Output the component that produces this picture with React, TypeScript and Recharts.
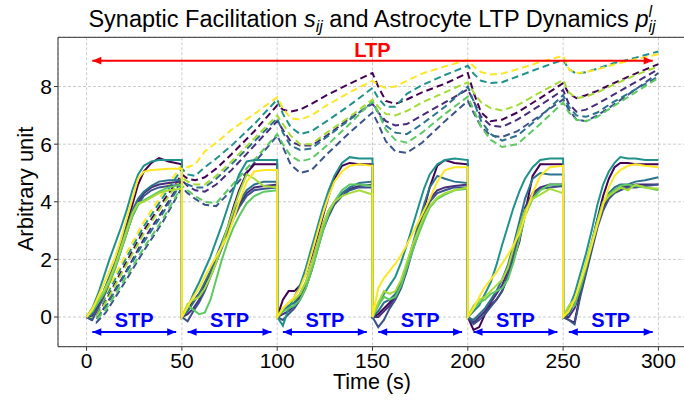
import { LineChart, Line, XAxis, YAxis, CartesianGrid, ReferenceLine, ReferenceDot } from "recharts";

const FONT = '"Liberation Sans", Arial, Helvetica, sans-serif';

// time grid of the solid s_ij traces (each 50 s window restarts at its first sample)
const S_TIME = [
  0, 3, 6, 9, 12, 15, 18, 21, 24, 27, 30, 34, 38, 43, 50,
  50, 53, 56, 59, 62, 65, 68, 71, 74, 77, 80, 84, 88, 93, 100,
  100, 103, 106, 109, 112, 115, 118, 121, 124, 127, 130, 134, 138, 143, 150,
  150, 153, 156, 159, 162, 165, 168, 171, 174, 177, 180, 184, 188, 193, 200,
  200, 203, 206, 209, 212, 215, 218, 221, 224, 227, 230, 234, 238, 243, 250,
  250, 253, 256, 259, 262, 265, 268, 271, 274, 277, 280, 284, 288, 293, 300,
];

// time grid of the dashed p_ij traces
const P_TIME = [
  0, 5, 10, 20, 30, 40, 50,
  53, 57, 62, 68, 76, 88, 100,
  103, 107, 112, 118, 126, 138, 150,
  153, 157, 162, 168, 176, 188, 200,
  203, 207, 212, 218, 226, 238, 250,
  253, 257, 262, 268, 276, 288, 300,
];

const S_PURPLE = [
  0, 0.15, 0.5, 0.9, 1.35, 1.8, 2.45, 3.2, 3.9, 4.6, 5.05, 5.35, 5.52, 5.4, 5.3,
  0, 0.25, 0.55, 0.8, 1.1, 1.5, 1.95, 2.5, 3.1, 3.8, 4.4, 5.0, 5.3, 5.3, 5.3,
  0, 0.6, 0.9, 0.9, 1.1, 1.5, 2.1, 2.8, 3.5, 4.2, 4.8, 5.25, 5.35, 5.3, 5.3,
  0, 0.1, 0.3, 0.5, 0.75, 1.1, 1.7, 2.4, 3.05, 3.75, 4.5, 5.25, 5.45, 5.35, 5.3,
  0, -0.45, -0.35, 0.1, 0.4, 0.6, 0.9, 1.4, 2.0, 2.6, 3.6, 4.9, 5.3, 5.3, 5.3,
  0, -0.1, -0.2, 0.8, 1.6, 2.5, 3.4, 4.2, 4.8, 5.2, 5.35, 5.35, 5.3, 5.3, 5.3,
];
const S_INDIGO = [
  0, 0.05, 0.4, 0.8, 1.3, 1.8, 2.4, 3.0, 3.6, 4.0, 4.3, 4.5, 4.6, 4.65, 4.7,
  0, 0.1, 0.3, 0.6, 1.0, 1.5, 2.0, 2.5, 3.0, 3.5, 3.9, 4.3, 4.5, 4.55, 4.6,
  0, 0.1, 0.2, 0.4, 0.7, 1.1, 1.7, 2.4, 3.1, 3.6, 4.0, 4.3, 4.45, 4.55, 4.6,
  0, 0.0, 0.2, 0.4, 0.7, 1.1, 1.7, 2.4, 3.0, 3.6, 4.1, 4.4, 4.5, 4.55, 4.6,
  0, -0.2, 0.0, 0.2, 0.5, 0.8, 1.1, 1.6, 2.3, 3.0, 3.8, 4.3, 4.5, 4.6, 4.6,
  0, 0.0, 0.3, 0.9, 1.6, 2.4, 3.2, 3.8, 4.2, 4.4, 4.5, 4.55, 4.6, 4.6, 4.6,
];
const S_DARKBLUE = [
  0, -0.1, 0.3, 0.7, 1.2, 1.7, 2.3, 2.9, 3.5, 3.9, 4.2, 4.4, 4.5, 4.55, 4.6,
  0, -0.15, 0.2, 0.5, 0.9, 1.4, 1.9, 2.4, 2.9, 3.4, 3.8, 4.2, 4.4, 4.45, 4.5,
  0, -0.1, 0.1, 0.3, 0.6, 1.0, 1.6, 2.3, 3.0, 3.5, 3.9, 4.2, 4.4, 4.5, 4.5,
  0, -0.35, -0.1, 0.3, 0.6, 1.0, 1.6, 2.3, 2.9, 3.5, 4.0, 4.3, 4.4, 4.5, 4.5,
  0, -0.25, -0.1, 0.1, 0.35, 0.6, 0.9, 1.4, 2.1, 2.9, 3.7, 4.2, 4.45, 4.5, 4.55,
  0, -0.1, -0.25, 0.7, 1.5, 2.3, 3.1, 3.7, 4.1, 4.3, 4.4, 4.5, 4.5, 4.55, 4.6,
];
const S_STEEL = [
  0, 0.1, 0.5, 0.9, 1.4, 1.9, 2.5, 3.1, 3.7, 4.1, 4.35, 4.55, 4.7, 4.75, 4.75,
  0, 0.2, 0.5, 0.8, 1.2, 1.6, 2.1, 2.6, 3.1, 3.6, 4.0, 4.4, 4.6, 4.7, 4.7,
  0, 0.2, 0.4, 0.5, 0.8, 1.2, 1.8, 2.5, 3.2, 3.7, 4.0, 4.3, 4.5, 4.65, 4.7,
  0, 0.2, 0.5, 0.6, 0.8, 1.2, 1.8, 2.5, 3.2, 3.9, 4.5, 4.9, 4.8, 4.7, 4.65,
  0, -0.1, 0.1, 0.3, 0.6, 0.9, 1.3, 1.8, 2.5, 3.3, 4.1, 4.8, 5.0, 4.95, 4.95,
  0, 0.1, 0.5, 1.1, 1.8, 2.6, 3.4, 4.0, 4.3, 4.5, 4.6, 4.6, 4.7, 4.75, 4.85,
];
const S_TEAL = [
  0, 0.3, 0.8, 1.4, 2.0, 2.55, 3.1, 3.7, 4.4, 4.95, 5.25, 5.4, 5.45, 5.45, 5.45,
  0, 0.3, 0.8, 1.2, 1.65, 2.1, 2.65, 3.2, 3.8, 4.4, 4.95, 5.4, 5.45, 5.45, 5.45,
  0, -0.3, 0.3, 0.7, 1.1, 1.7, 2.4, 3.1, 3.8, 4.4, 4.9, 5.35, 5.55, 5.5, 5.5,
  0, 0.4, 0.8, 1.1, 1.4, 1.9, 2.5, 3.15, 3.8, 4.45, 4.95, 5.3, 5.45, 5.5, 5.45,
  0, 0.2, 0.4, 0.8, 1.2, 1.8, 2.5, 3.15, 3.8, 4.35, 4.8, 5.2, 5.45, 5.5, 5.5,
  0, 0.3, 0.8, 1.5, 2.2, 3.0, 3.9, 4.6, 5.05, 5.35, 5.55, 5.5, 5.5, 5.45, 5.45,
];
const S_GREEN = [
  0, 0.2, 0.5, 0.8, 1.2, 1.7, 2.3, 2.9, 3.5, 3.9, 4.05, 4.2, 4.35, 4.5, 4.6,
  0, 0.4, 0.25, 0.1, 0.15, 0.6, 1.3, 2.0, 2.6, 3.1, 3.5, 3.95, 4.2, 4.35, 4.4,
  0, 0.2, 0.3, 0.4, 0.6, 1.0, 1.6, 2.3, 3.0, 3.6, 4.0, 4.4, 4.6, 4.6, 4.55,
  0, 0.4, 0.7, 0.6, 0.7, 1.1, 1.7, 2.3, 2.85, 3.35, 3.8, 4.1, 4.25, 4.4, 4.45,
  0, 0.3, 0.5, 0.6, 0.8, 0.9, 1.0, 1.3, 1.9, 2.7, 3.5, 4.1, 4.4, 4.6, 4.6,
  0, 0.3, 0.4, 1.0, 1.7, 2.5, 3.3, 4.0, 4.25, 4.4, 4.55, 4.6, 4.55, 4.5, 4.4,
];
const S_LIME = [
  0, 0.3, 0.6, 0.9, 1.3, 1.8, 2.4, 3.0, 3.6, 3.95, 4.0, 4.15, 4.3, 4.4, 4.45,
  0, 0.45, 0.6, 0.7, 1.0, 1.4, 1.9, 2.5, 3.1, 3.7, 4.3, 4.95, 4.8, 4.55, 4.5,
  0, 0.3, 0.5, 0.6, 0.8, 1.2, 1.8, 2.5, 3.2, 3.7, 4.0, 4.2, 4.3, 4.4, 4.25,
  0, 0.5, 0.9, 0.8, 0.9, 1.3, 1.9, 2.5, 3.0, 3.5, 3.85, 4.15, 4.3, 4.4, 4.5,
  0, 0.4, 0.6, 0.7, 0.9, 1.1, 1.3, 1.7, 2.4, 3.1, 3.7, 4.1, 4.25, 4.45, 4.3,
  0, 0.4, 0.6, 1.2, 1.9, 2.6, 3.3, 3.95, 4.2, 4.35, 4.5, 4.4, 4.6, 4.5, 4.45,
];
const S_YELLOW = [
  0, 0.25, 0.7, 1.15, 1.6, 2.1, 2.7, 3.4, 4.1, 4.8, 5.05, 5.1, 5.12, 5.15, 5.15,
  0, 0.35, 0.7, 1.0, 1.4, 1.75, 2.1, 2.45, 2.8, 3.4, 4.0, 4.7, 5.05, 5.1, 5.1,
  0, 0.3, 0.5, 0.7, 1.0, 1.5, 2.2, 2.9, 3.6, 4.2, 4.7, 5.05, 5.25, 5.3, 5.25,
  0, 1.0, 1.35, 1.6, 1.85, 2.15, 2.5, 2.9, 3.3, 3.7, 4.1, 4.7, 5.1, 5.2, 5.2,
  0, 0.3, 0.7, 1.05, 1.3, 1.55, 1.85, 2.15, 2.5, 2.9, 3.5, 4.3, 4.9, 5.2, 5.25,
  0, 0.2, 0.6, 1.2, 1.8, 2.5, 3.2, 3.9, 4.5, 4.9, 5.1, 5.25, 5.3, 5.25, 5.2,
];

const P_PURPLE = [
  0, 0.0, 0.55, 1.8, 3.0, 4.0, 4.95,
  4.8, 4.75, 4.85, 5.15, 5.65, 6.45, 7.35,
  7.2, 7.13, 7.2, 7.4, 7.7, 8.1, 8.47,
  8.0, 7.5, 7.4, 7.55, 7.8, 8.1, 8.47,
  7.8, 7.1, 6.8, 6.85, 7.1, 7.6, 8.12,
  7.75, 7.6, 7.7, 7.85, 8.1, 8.45, 8.78,
];
const P_INDIGO = [
  0, -0.1, 0.4, 1.5, 2.7, 3.7, 4.75,
  4.55, 4.4, 4.35, 4.6, 5.1, 5.95, 6.8,
  6.5, 6.1, 5.95, 5.95, 6.3, 6.9, 7.4,
  7.1, 6.8, 6.65, 6.7, 7.0, 7.45, 7.9,
  7.5, 6.95, 6.65, 6.6, 6.85, 7.35, 7.88,
  7.4, 7.13, 7.2, 7.4, 7.7, 8.15, 8.6,
];
const P_DARKBLUE = [
  0, -0.2, 0.15, 1.2, 2.3, 3.3, 4.5,
  4.3, 4.1, 3.9, 3.85, 4.4, 5.35, 6.3,
  5.9, 5.3, 5.0, 5.1, 5.65, 6.4, 7.1,
  6.7, 6.1, 5.75, 5.7, 6.05, 6.8, 7.5,
  7.1, 6.6, 6.3, 6.25, 6.45, 7.0, 7.55,
  7.2, 6.85, 6.8, 7.0, 7.35, 7.9, 8.47,
];
const P_STEEL = [
  0, -0.05, 0.35, 1.45, 2.6, 3.6, 4.7,
  4.6, 4.5, 4.5, 4.8, 5.3, 6.1, 6.9,
  6.4, 5.95, 5.8, 5.85, 6.25, 6.85, 7.45,
  7.1, 6.65, 6.4, 6.35, 6.7, 7.3, 8.0,
  7.5, 6.8, 6.35, 6.12, 6.3, 6.95, 7.7,
  7.3, 7.0, 6.95, 7.1, 7.45, 7.9, 8.35,
];
const P_TEAL = [
  0, 0.1, 0.7, 1.95, 3.15, 4.15, 5.15,
  4.95, 4.9, 5.2, 5.5, 5.95, 6.7, 7.55,
  7.05, 6.6, 6.35, 6.45, 6.8, 7.35, 7.95,
  7.6, 7.3, 7.3, 7.75, 8.05, 8.4, 8.72,
  8.45, 8.2, 8.12, 8.15, 8.35, 8.65, 8.93,
  8.6, 8.45, 8.5, 8.62, 8.8, 9.0, 9.22,
];
const P_GREEN = [
  0, -0.1, 0.25, 1.3, 2.4, 3.4, 4.55,
  4.4, 4.2, 4.0, 3.95, 4.55, 5.45, 6.35,
  6.0, 5.6, 5.4, 5.5, 5.95, 6.7, 7.5,
  7.1, 6.5, 6.15, 6.05, 6.4, 7.05, 7.65,
  7.2, 6.6, 6.15, 5.9, 6.0, 6.7, 7.45,
  7.1, 6.85, 6.8, 6.95, 7.3, 7.8, 8.3,
];
const P_LIME = [
  0, 0.0, 0.5, 1.7, 2.9, 3.9, 4.85,
  4.7, 4.6, 4.6, 4.9, 5.4, 6.2, 7.0,
  6.7, 6.3, 6.0, 6.0, 6.4, 6.95, 7.55,
  7.3, 7.05, 7.0, 7.15, 7.45, 7.8, 8.15,
  7.8, 7.45, 7.25, 7.17, 7.35, 7.8, 8.23,
  7.8, 7.6, 7.65, 7.8, 8.05, 8.4, 8.7,
];
const P_YELLOW = [
  0, 0.15, 0.8, 2.1, 3.3, 4.3, 5.3,
  5.2, 5.3, 5.75, 6.05, 6.5, 7.05, 7.63,
  7.25, 6.9, 6.85, 7.0, 7.35, 7.8, 8.2,
  8.05, 7.95, 8.0, 8.2, 8.45, 8.7, 8.93,
  8.7, 8.5, 8.42, 8.45, 8.6, 8.85, 9.07,
  8.6, 8.47, 8.5, 8.6, 8.75, 8.95, 9.12,
];

const SERIES = [
  { name: "purple", color: "#440154", s: S_PURPLE, p: P_PURPLE },
  { name: "indigo", color: "#472c7a", s: S_INDIGO, p: P_INDIGO },
  { name: "darkblue", color: "#3b528b", s: S_DARKBLUE, p: P_DARKBLUE },
  { name: "steel", color: "#2c728e", s: S_STEEL, p: P_STEEL },
  { name: "teal", color: "#21918c", s: S_TEAL, p: P_TEAL },
  { name: "green", color: "#5ec962", s: S_GREEN, p: P_GREEN },
  { name: "lime", color: "#a5db36", s: S_LIME, p: P_LIME },
  { name: "yellow", color: "#fde725", s: S_YELLOW, p: P_YELLOW },
];

const X_TICKS = [0, 50, 100, 150, 200, 250, 300];
const Y_TICKS = [0, 2, 4, 6, 8];
const X_DOMAIN = [-15, 315];
const Y_DOMAIN = [-1.03, 9.71];

// annotations
const LTP_ARROW = { x1: 3, x2: 297, y: 8.9, labelX: 150, labelY: 9.04 };
const STP_WINDOWS = [0, 50, 100, 150, 200, 250];
const STP_ARROW_Y = -0.52;
const STP_LABEL_Y = -0.35;

const toRows = (times: number[], vals: number[]) => times.map((t, i) => ({ t, v: vals[i] }));

const head = (dir: number, color: string) => (props: any) => {
  const { cx, cy } = props;
  const L = 9;
  const W = 3.8;
  return (
    <polygon
      points={`${cx},${cy} ${cx - dir * L},${cy - W} ${cx - dir * L},${cy + W}`}
      fill={color}
    />
  );
};

const label = (text: string, color: string) => (props: any) => (
  <text
    x={props.cx}
    y={props.cy}
    textAnchor="middle"
    fill={color}
    fontSize={20}
    fontWeight="bold"
    fontFamily={FONT}
  >
    {text}
  </text>
);

export default function App() {
  return (
    <div style={{ position: "absolute", left: 0, top: 0, width: 684, height: 401, background: "#fff" }}>
      <LineChart width={684} height={401} margin={{ top: 37.3, right: -3, bottom: 0, left: 0 }}>
        <CartesianGrid stroke="#cccccc" strokeDasharray="3 2" />
        <XAxis
          type="number"
          dataKey="t"
          domain={X_DOMAIN}
          ticks={X_TICKS}
          allowDataOverflow
          height={54.3}
          stroke="#333"
          tickSize={4}
          tick={{ fontSize: 21, fill: "#000", fontFamily: FONT }}
        />
        <YAxis
          type="number"
          domain={Y_DOMAIN}
          ticks={Y_TICKS}
          allowDataOverflow
          width={58}
          stroke="#333"
          tickSize={4}
          tick={{ fontSize: 21, fill: "#000", fontFamily: FONT }}
        />
        <ReferenceLine y={Y_DOMAIN[1]} stroke="#333" ifOverflow="visible" />
        {SERIES.map((sr) => (
          <Line
            key={"p-" + sr.name}
            data={toRows(P_TIME, sr.p)}
            dataKey="v"
            type="linear"
            stroke={sr.color}
            strokeWidth={2}
            strokeDasharray="7 4"
            dot={false}
            activeDot={false}
            isAnimationActive={false}
          />
        ))}
        {SERIES.map((sr) => (
          <Line
            key={"s-" + sr.name}
            data={toRows(S_TIME, sr.s)}
            dataKey="v"
            type="linear"
            stroke={sr.color}
            strokeWidth={2}
            dot={false}
            activeDot={false}
            isAnimationActive={false}
          />
        ))}
        <ReferenceLine
          segment={[{ x: LTP_ARROW.x1, y: LTP_ARROW.y }, { x: LTP_ARROW.x2, y: LTP_ARROW.y }]}
          stroke="#ff0000"
          strokeWidth={2}
        />
        <ReferenceDot x={LTP_ARROW.x1} y={LTP_ARROW.y} shape={head(-1, "#ff0000")} />
        <ReferenceDot x={LTP_ARROW.x2} y={LTP_ARROW.y} shape={head(1, "#ff0000")} />
        <ReferenceDot x={LTP_ARROW.labelX} y={LTP_ARROW.labelY} shape={label("LTP", "#ff0000")} />
        {STP_WINDOWS.map((s) => (
          <ReferenceLine
            key={"stp-l-" + s}
            segment={[{ x: s + 3, y: STP_ARROW_Y }, { x: s + 47, y: STP_ARROW_Y }]}
            stroke="#0000ff"
            strokeWidth={2}
          />
        ))}
        {STP_WINDOWS.map((s) => (
          <ReferenceDot key={"stp-a-" + s} x={s + 3} y={STP_ARROW_Y} shape={head(-1, "#0000ff")} />
        ))}
        {STP_WINDOWS.map((s) => (
          <ReferenceDot key={"stp-b-" + s} x={s + 47} y={STP_ARROW_Y} shape={head(1, "#0000ff")} />
        ))}
        {STP_WINDOWS.map((s) => (
          <ReferenceDot key={"stp-t-" + s} x={s + 25} y={STP_LABEL_Y} shape={label("STP", "#0000ff")} />
        ))}
      </LineChart>
      <svg
        width={684}
        height={401}
        style={{ position: "absolute", left: 0, top: 0, pointerEvents: "none" }}
      >
        <text x={372} y={27} textAnchor="middle" fontSize={23.5} fontFamily={FONT} fill="#000">
          {"Synaptic Facilitation "}
          <tspan fontStyle="italic">s</tspan>
          <tspan fontStyle="italic" fontSize={16} dy={5}>ij</tspan>
          <tspan dy={-5}>{" and Astrocyte LTP Dynamics "}</tspan>
          <tspan fontStyle="italic">p</tspan>
          <tspan fontStyle="italic" fontSize={16} dy={-10}>l</tspan>
          <tspan fontStyle="italic" fontSize={16} dx={-3.6} dy={15}>ij</tspan>
        </text>
        <text x={372} y={389} textAnchor="middle" fontSize={21.5} fontFamily={FONT} fill="#000">
          Time (s)
        </text>
        <text
          x={0}
          y={0}
          transform="translate(33,189) rotate(-90)"
          textAnchor="middle"
          fontSize={22}
          fontFamily={FONT}
          fill="#000"
        >
          Arbitrary unit
        </text>
      </svg>
    </div>
  );
}
